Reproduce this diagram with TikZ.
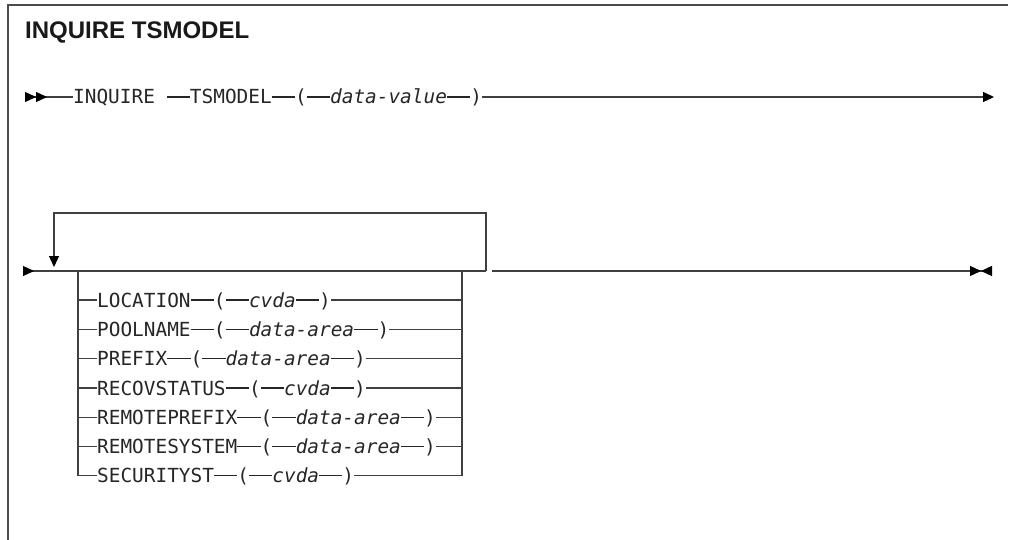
\documentclass[tikz,border=0pt]{standalone}
\usepackage{fontspec}
\setmainfont{Liberation Sans}
\setmonofont{DejaVu Sans Mono}
\usetikzlibrary{arrows.meta}
\colorlet{synline}{black!75}
\newcommand\synrule{\rule[\dimexpr0.365em-0.6pt\relax]{1.204em}{1.2pt}}

\begin{document}
\begin{tikzpicture}[x=1pt, y=-1pt,
    syn/.style={font=\ttfamily\fontsize{19.4}{23}\selectfont, text=black!85, inner sep=0pt, anchor=base west},
    title/.style={font=\bfseries\fontsize{24}{28}\selectfont, text=black!90, inner sep=0pt, anchor=base west},
    path/.style={draw=synline, line width=1.3pt},
    startmark/.style={{Triangle[reversed,length=11pt,width=10pt,color=black]}-},
    dblstart/.style={{Triangle[reversed,length=11pt,width=10pt,color=black]Triangle[reversed,length=11pt,width=10pt,color=black]}-},
    endarrow/.style={-{Triangle[length=11pt,width=10pt,color=black]}},
    endmark/.style={-{Triangle[length=11pt,width=10pt,color=black]Triangle[reversed,length=11pt,width=10pt,color=black]}}]
    \useasboundingbox (0,0) rectangle (1009,540);
    \draw[line width=1.3pt, draw=black!70] (8,540) |- (1008,5);
    \node[title] (title) at (25,39) {INQUIRE TSMODEL};

    \node[syn] (cmd) at (73,104) {INQUIRE \synrule TSMODEL\synrule(\synrule\textit{data-value}\synrule)};
    \coordinate (s1) at (25,97);
    \coordinate (e1) at (994,97);
    \draw[path, dblstart] (s1) -- (s1 -| cmd.west);
    \draw[path, endarrow] (cmd.east |- e1) -- (e1);

    \coordinate (s2) at (23,271);
    \coordinate (lp) at (486,271);
    \coordinate (lt) at (54,267);
    \coordinate (g2) at (492,271);
    \coordinate (e2) at (992,271);
    \coordinate (la) at (78,271);
    \coordinate (ra) at (462,271);
    \draw[path, startmark] (s2) -- (lp);
    \draw[path, endarrow] (lp) -- ++(0,-58) -| (lt);
    \draw[path, endmark] (g2) -- (e2);

    \foreach \i/\t in {1/{LOCATION\synrule(\synrule\textit{cvda}\synrule)},
                       2/{POOLNAME\synrule(\synrule\textit{data-area}\synrule)},
                       3/{PREFIX\synrule(\synrule\textit{data-area}\synrule)},
                       4/{RECOVSTATUS\synrule(\synrule\textit{cvda}\synrule)},
                       5/{REMOTEPREFIX\synrule(\synrule\textit{data-area}\synrule)},
                       6/{REMOTESYSTEM\synrule(\synrule\textit{data-area}\synrule)},
                       7/{SECURITYST\synrule(\synrule\textit{cvda}\synrule)}} {
        \pgfmathsetmacro\yy{300+29.3*(\i-1)}
        \coordinate (p\i) at (78,\yy);
        \node[syn] (r\i) at (97,{\yy+7.1}) {\t};
        \draw[path] (p\i) -- (p\i -| r\i.west);
        \draw[path] (p\i -| r\i.east) -- (p\i -| ra);
    }
    \draw[path] (la) -- (la |- p7);
    \draw[path] (ra) -- (ra |- p7);
\end{tikzpicture}
\end{document}
